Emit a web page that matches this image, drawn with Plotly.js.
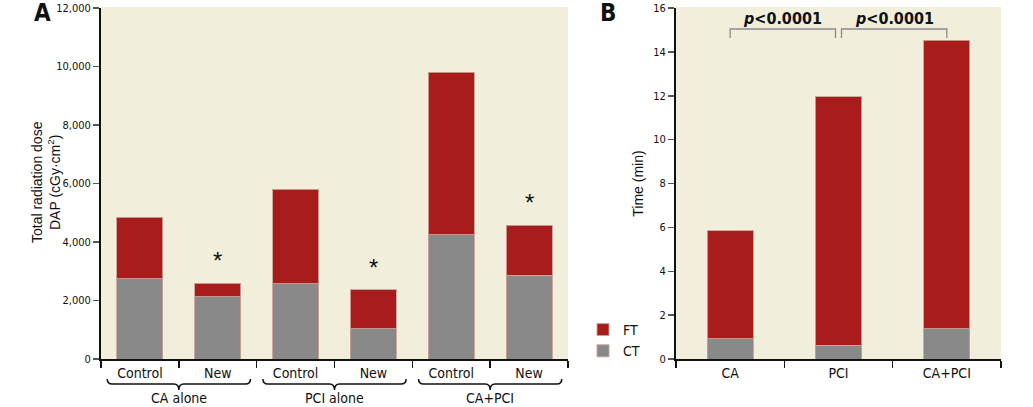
<!DOCTYPE html>
<html>
<head>
<meta charset="utf-8">
<script src="https://cdn.plot.ly/plotly-3.0.1.min.js"></script>
<style>html,body{margin:0;padding:0;background:#fff;}#chart{width:1033px;height:407px;}</style>
</head>
<body>
<div id="chart"></div>
<script>
// ---- Data ----
const groupsA = ["CA alone", "PCI alone", "CA+PCI"];
const subLabelsA = ["Control", "New"];
const ctA = [2740, 2120, 2570, 1030, 4240, 2870];      // CT (grey) segment, cGy·cm²
const ftA = [2110, 470, 3230, 1330, 5570, 1700];       // FT (red) segment, cGy·cm²
const significantA = [false, true, false, true, false, true];

const categoriesB = ["CA", "PCI", "CA+PCI"];
const ctB = [0.93, 0.62, 1.38];                         // CT, min
const ftB = [4.92, 11.33, 13.14];                       // FT, min
const pComparisons = [[0, 1, "p<0.0001"], [1, 2, "p<0.0001"]];

const seriesNames = ["CT", "FT"];
const titleA = "Total radiation dose<br>DAP (cGy·cm<sup>2</sup>)";
const titleB = "Time (min)";
// ---- Styling ----
const RED = "#A81C1C", GREY = "#898989", BG = "#F2EEDC";
const EDGE = "rgba(205,160,150,0.9)";
const NARROW = "'DejaVu Sans Condensed', 'Liberation Sans Narrow', Arial, sans-serif";
const SANS = "'Liberation Sans', Arial, sans-serif";

const W = 1033, H = 407;
const domA = [101 / W, 568 / W];
const domB = [676 / W, 1001 / W];
const domY = [(H - 359) / H, (H - 8) / H];

const idsA = [];
const tickTextA = [];
groupsA.forEach(g => subLabelsA.forEach(s => { idsA.push(g + " | " + s); tickTextA.push(s); }));

const traces = [
  {type: "bar", x: idsA, y: ctA, name: seriesNames[0], marker: {color: GREY, line: {color: EDGE, width: 1}},
   xaxis: "x", yaxis: "y", width: 0.59, legendgroup: "CT", showlegend: true, hoverinfo: "skip"},
  {type: "bar", x: idsA, y: ftA, name: seriesNames[1], marker: {color: RED, line: {color: EDGE, width: 1}},
   xaxis: "x", yaxis: "y", width: 0.59, legendgroup: "FT", showlegend: true, hoverinfo: "skip"},
  {type: "bar", x: categoriesB, y: ctB, name: seriesNames[0], marker: {color: GREY, line: {color: EDGE, width: 1}},
   xaxis: "x2", yaxis: "y2", width: 0.425, legendgroup: "CT", showlegend: false, hoverinfo: "skip"},
  {type: "bar", x: categoriesB, y: ftB, name: seriesNames[1], marker: {color: RED, line: {color: EDGE, width: 1}},
   xaxis: "x2", yaxis: "y2", width: 0.425, legendgroup: "FT", showlegend: false, hoverinfo: "skip"}
];

const annotations = [];
const shapes = [];
const py = px => (H - px) / H;  // pixel row -> paper y

// asterisks above "New" bars
idsA.forEach((id, i) => {
  if (significantA[i]) {
    annotations.push({xref: "x", yref: "y", x: id, y: ctA[i] + ftA[i], xanchor: "center", yanchor: "bottom", yshift: 7,
      text: "*", showarrow: false, font: {family: SANS, size: 24, color: "#111"}});
  }
});

// group braces + labels under panel A
const nA = idsA.length;
const catPaperA = idx => domA[0] + (idx + 0.5) / nA * (domA[1] - domA[0]);
groupsA.forEach((g, gi) => {
  const i0 = gi * subLabelsA.length, i1 = i0 + subLabelsA.length - 1;
  const x0 = catPaperA(i0 - 0.42), x1 = catPaperA(i1 + 0.42), xm = (x0 + x1) / 2;
  const r = 5 / W;
  const yT = py(379), yM = py(384), yB = py(390);
  const path = `M ${x0},${yT} Q ${x0},${yM} ${x0 + r},${yM} L ${xm - r},${yM} Q ${xm},${yM} ${xm},${yB} ` +
               `Q ${xm},${yM} ${xm + r},${yM} L ${x1 - r},${yM} Q ${x1},${yM} ${x1},${yT}`;
  shapes.push({type: "path", xref: "paper", yref: "paper", path: path, line: {color: "#111", width: 1.5}});
  annotations.push({xref: "paper", yref: "paper", x: xm, y: py(398), xanchor: "center", yanchor: "middle", text: g,
    showarrow: false, font: {family: NARROW, size: 14, color: "#111"}});
});

// p-value brackets in panel B
const nB = categoriesB.length;
const catPaperB = idx => domB[0] + (idx + 0.5) / nB * (domB[1] - domB[0]);
pComparisons.forEach(([a, b, label], k) => {
  let x0 = catPaperB(a), x1 = catPaperB(b);
  if (k === 0) x1 -= 3 / W; else x0 += 3 / W;
  const yT = py(29), yE = py(38);
  shapes.push({type: "path", xref: "paper", yref: "paper",
    path: `M ${x0},${yE} L ${x0},${yT} L ${x1},${yT} L ${x1},${yE}`, line: {color: "#8a8a8a", width: 1.3}});
  annotations.push({xref: "paper", yref: "paper", x: (x0 + x1) / 2, y: py(18), xanchor: "center", yanchor: "middle",
    text: "<b><i>p</i>&lt;" + label.slice(2) + "</b>", showarrow: false,
    font: {family: NARROW, size: 16, color: "#111"}});
});

// y title of panel A (placed as rotated text next to the tick labels)
annotations.push({xref: "paper", yref: "paper", x: 46 / W, y: py(182), xanchor: "center", yanchor: "middle",
  textangle: -90, text: titleA, showarrow: false, font: {family: SANS, size: 14, color: "#111"}});

// panel letters
annotations.push({xref: "paper", yref: "paper", x: 42 / W, y: py(13), xanchor: "center", yanchor: "middle",
  text: "<b>A</b>", showarrow: false, font: {family: NARROW, size: 24, color: "#111"}});
annotations.push({xref: "paper", yref: "paper", x: 608 / W, y: py(13), xanchor: "center", yanchor: "middle",
  text: "<b>B</b>", showarrow: false, font: {family: NARROW, size: 24, color: "#111"}});

const yAxisCommon = {
  showline: true, linecolor: "#111", linewidth: 2, ticks: "outside", ticklen: 6, tickwidth: 1.5,
  tickcolor: "#555", showgrid: false, zeroline: false, domain: domY,
  tickfont: {family: NARROW, size: 11, color: "#111"}
};
const xAxisCommon = {
  showline: true, linecolor: "#111", linewidth: 2, ticks: "outside", ticklen: 7, tickwidth: 1.5,
  tickcolor: "#111", showgrid: false, zeroline: false, tickson: "boundaries", type: "category",
  tickfont: {family: NARROW, size: 14, color: "#111"}
};

const layout = {
  width: W, height: H,
  margin: {l: 0, r: 0, t: 0, b: 0},
  paper_bgcolor: "#fff",
  barmode: "stack",
  showlegend: true,
  legend: {x: 583 / W, y: py(314), xanchor: "left", yanchor: "top", traceorder: "reversed",
    font: {family: NARROW, size: 14, color: "#111"}, bgcolor: "rgba(0,0,0,0)", itemwidth: 30, tracegroupgap: 0},
  xaxis: Object.assign({}, xAxisCommon, {domain: domA, anchor: "y", tickmode: "array", tickvals: idsA, ticktext: tickTextA}),
  yaxis: Object.assign({}, yAxisCommon, {anchor: "x", range: [0, 12000], dtick: 2000, tickformat: ",d"}),
  xaxis2: Object.assign({}, xAxisCommon, {domain: domB, anchor: "y2"}),
  yaxis2: Object.assign({}, yAxisCommon, {anchor: "x2", range: [0, 16], dtick: 2,
    title: {text: titleB, font: {family: SANS, size: 14, color: "#111"}, standoff: 6}}),
  shapes: shapes.concat([
    {type: "rect", xref: "paper", yref: "paper", x0: domA[0], x1: domA[1], y0: domY[0], y1: domY[1] + 1 / H,
     fillcolor: BG, line: {width: 0}, layer: "below"},
    {type: "rect", xref: "paper", yref: "paper", x0: domB[0], x1: domB[1], y0: domY[0], y1: domY[1] + 1 / H,
     fillcolor: BG, line: {width: 0}, layer: "below"}
  ]),
  annotations: annotations,
  bargap: 0.4
};

Plotly.newPlot("chart", traces, layout, {staticPlot: true, displayModeBar: false});
</script>
</body>
</html>
